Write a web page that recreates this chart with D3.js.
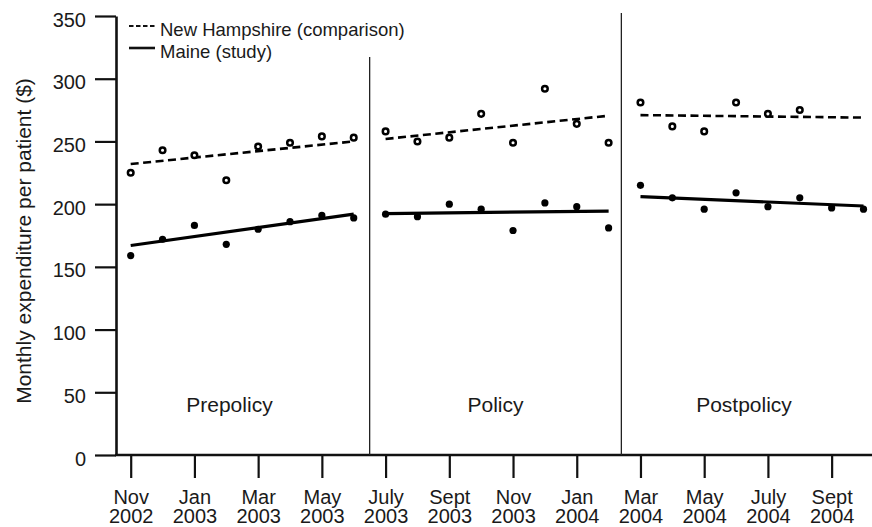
<!DOCTYPE html>
<html>
<head>
<meta charset="utf-8">
<script src="https://cdn.jsdelivr.net/npm/d3@7"></script>
<style>
  body { margin: 0; background: #fff; }
  text { font-family: "Liberation Sans", Arial, Helvetica, sans-serif; fill: #1a1a1a; }
</style>
</head>
<body>
<div id="chart"></div>
<script>
// months Nov 2002 .. Oct 2004
var monthNames = ["Nov", "Dec", "Jan", "Feb", "Mar", "Apr", "May", "June", "July", "Aug", "Sept", "Oct",
                  "Nov", "Dec", "Jan", "Feb", "Mar", "Apr", "May", "June", "July", "Aug", "Sept", "Oct"]
var monthYears = ["2002", "2002", "2003", "2003", "2003", "2003", "2003", "2003", "2003", "2003", "2003", "2003",
                  "2003", "2003", "2004", "2004", "2004", "2004", "2004", "2004", "2004", "2004", "2004", "2004"]

// monthly expenditure per patient ($)
var nhValues = [225, 243, 239, 219, 246, 249, 254, 253,
                258, 250, 253, 272, 249, 292, 264, 249,
                281, 262, 258, 281, 272, 275, null, null]
var maineValues = [159, 172, 183, 168, 180, 186, 191, 189,
                   192, 190, 200, 196, 179, 201, 198, 181,
                   215, 205, 196, 209, 198, 205, 197, 196]

// periods and fitted trend (start, end)
var periods = ["Prepolicy", "Policy", "Postpolicy"]
var periodStart = [0, 8, 16]
var periodEnd = [7, 15, 23]
var nhTrend = [[232, 250], [252, 270.5], [271, 269]]
var maineTrend = [[167, 192], [192.5, 194.5], [206, 198.5]]

var yTicks = [0, 50, 100, 150, 200, 250, 300, 350]

// layout
var width = 872, height = 527
var axisX = 116, axisY = 455

var svg = d3.select("#chart")
    .append("svg")
    .attr("width", width)
    .attr("height", height)

var x = d3.scaleLinear()
    .domain([0, 23])
    .range([130.7, 863.5])

var y = d3.scaleLinear()
    .domain([0, 350])
    .range([axisY, 16])

// Y axis
var yAxis = svg.append("g")
    .attr("transform", "translate(" + axisX + ",0)")
    .call(d3.axisLeft(y).tickValues(yTicks).tickSize(21).tickSizeOuter(0).tickPadding(9))
yAxis.select(".domain").attr("stroke", "#111").attr("stroke-width", 2.6)
yAxis.selectAll(".tick line").attr("stroke", "#111").attr("stroke-width", 2.2)
yAxis.selectAll(".tick text")
    .style("font-size", "20px")
    .attr("dy", "0.5em")
    .attr("fill", "#1a1a1a")

// X axis, labels on two lines
var xAxis = svg.append("g")
    .attr("transform", "translate(0," + axisY + ")")
    .call(d3.axisBottom(x).tickValues(d3.range(0, 24, 2)).tickSize(23).tickSizeOuter(0).tickPadding(12)
        .tickFormat(function(d){ return monthNames[d] }))
xAxis.select(".domain").remove()
xAxis.selectAll(".tick line").attr("stroke", "#111").attr("stroke-width", 2.2)
xAxis.selectAll(".tick text").style("font-size", "20px").attr("fill", "#1a1a1a")
xAxis.selectAll(".tick")
    .append("text")
    .attr("y", 68)
    .attr("text-anchor", "middle")
    .style("font-size", "20px")
    .attr("fill", "#1a1a1a")
    .text(function(d){ return monthYears[d] })
svg.append("line")
    .attr("x1", axisX - 1).attr("x2", width)
    .attr("y1", axisY).attr("y2", axisY)
    .attr("stroke", "#111").attr("stroke-width", 2.6)

// y title
svg.append("text")
    .attr("transform", "translate(31," + 241 + ") rotate(-90)")
    .attr("text-anchor", "middle")
    .style("font-size", "21px")
    .text("Monthly expenditure per patient ($)")

// period separators
var sepMonths = [7.5, 15.4]
var sepTops = [57, 13]
svg.selectAll(".sep")
    .data(sepMonths)
    .enter()
    .append("line")
    .attr("x1", function(d){ return x(d) })
    .attr("x2", function(d){ return x(d) })
    .attr("y1", function(d, i){ return sepTops[i] })
    .attr("y2", axisY)
    .attr("stroke", "#222")
    .attr("stroke-width", 1.3)

// period labels
var labelMonths = [3.1, 11.45, 19.25]
svg.selectAll(".plabel")
    .data(periods)
    .enter()
    .append("text")
    .attr("x", function(d, i){ return x(labelMonths[i]) })
    .attr("y", 412)
    .attr("text-anchor", "middle")
    .style("font-size", "21px")
    .text(function(d){ return d })

// trend lines
function trendLines(trend, cls, dash, sw) {
    svg.selectAll("." + cls)
        .data(trend)
        .enter()
        .append("line")
        .attr("class", cls)
        .attr("x1", function(d, i){ return x(periodStart[i]) })
        .attr("x2", function(d, i){ return x(periodEnd[i]) })
        .attr("y1", function(d){ return y(d[0]) })
        .attr("y2", function(d){ return y(d[1]) })
        .attr("stroke", "#000")
        .attr("stroke-width", sw)
        .attr("stroke-dasharray", dash)
}
trendLines(nhTrend, "nhtrend", "8,4.5", 2.6)
trendLines(maineTrend, "metrend", null, 3.2)

// dots
svg.append("g")
    .selectAll("circle")
    .data(nhValues.map(function(v, i){ return {m: i, v: v} }).filter(function(d){ return d.v != null }))
    .enter()
    .append("circle")
    .attr("cx", function(d){ return x(d.m) })
    .attr("cy", function(d){ return y(d.v) })
    .attr("r", 2.8)
    .style("fill", "#fff")
    .style("stroke", "#000")
    .style("stroke-width", 2.5)

svg.append("g")
    .selectAll("circle")
    .data(maineValues.map(function(v, i){ return {m: i, v: v} }))
    .enter()
    .append("circle")
    .attr("cx", function(d){ return x(d.m) })
    .attr("cy", function(d){ return y(d.v) })
    .attr("r", 3.6)
    .style("fill", "#000")

// legend
var legendNames = ["New Hampshire (comparison)", "Maine (study)"]
var legend = svg.append("g")
legend.selectAll("line")
    .data(legendNames)
    .enter()
    .append("line")
    .attr("x1", 129).attr("x2", 155)
    .attr("y1", function(d, i){ return 26 + i * 22 })
    .attr("y2", function(d, i){ return 26 + i * 22 })
    .attr("stroke", "#111")
    .attr("stroke-width", function(d, i){ return i == 0 ? 2 : 2.6 })
    .attr("stroke-dasharray", function(d, i){ return i == 0 ? "4.5,2.5" : null })
legend.selectAll("text")
    .data(legendNames)
    .enter()
    .append("text")
    .attr("x", 160)
    .attr("y", function(d, i){ return 36 + i * 22 })
    .style("font-size", "18.5px")
    .text(function(d){ return d })
</script>
</body>
</html>
